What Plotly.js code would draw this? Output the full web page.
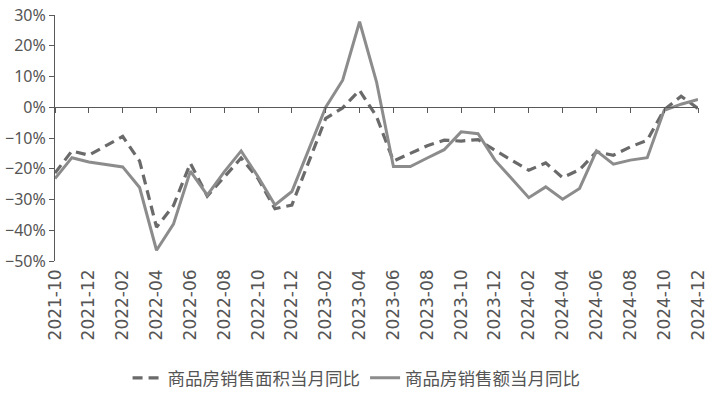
<!DOCTYPE html>
<html>
<head>
<meta charset="utf-8">
<script src="https://cdn.plot.ly/plotly-3.0.1.min.js"></script>
<style>html,body{margin:0;padding:0;background:#fff;}#chart{width:713px;height:398px;}</style>
</head>
<body>
<div id="chart"></div>
<script>
const months = ["2021-10","2021-11","2021-12","2022-01","2022-02","2022-03","2022-04","2022-05","2022-06","2022-07","2022-08","2022-09","2022-10","2022-11","2022-12","2023-01","2023-02","2023-03","2023-04","2023-05","2023-06","2023-07","2023-08","2023-09","2023-10","2023-11","2023-12","2024-01","2024-02","2024-03","2024-04","2024-05","2024-06","2024-07","2024-08","2024-09","2024-10","2024-11","2024-12"];
const areaYoY = [-21.4,-14.2,-15.6,null,-9.5,-17.5,-39.0,-32.0,-18.2,-28.9,-22.6,-16.5,-23.2,-33.0,-31.8,null,-3.6,-0.2,5.5,-3.0,-17.5,-15.0,-12.5,-10.7,-11.0,-10.5,-14.0,null,-20.5,-18.1,-22.9,-20.3,-14.5,-15.6,-12.9,-10.7,-0.8,3.6,-0.4];
const amountYoY = [-23.2,-16.4,-17.8,null,-19.4,-26.1,-46.5,-38.0,-20.8,-28.6,-21.0,-14.2,-22.6,-31.8,-27.4,null,0.0,8.8,27.8,8.3,-19.3,-19.3,-16.5,-13.8,-8.0,-8.6,-17.2,null,-29.4,-25.9,-29.9,-26.4,-14.2,-18.5,-17.2,-16.4,-1.0,1.0,2.5];
const tickLabels = ["2021-10","2021-12","2022-02","2022-04","2022-06","2022-08","2022-10","2022-12","2023-02","2023-04","2023-06","2023-08","2023-10","2023-12","2024-02","2024-04","2024-06","2024-08","2024-10","2024-12"];
const seriesNames = ["商品房销售面积当月同比","商品房销售额当月同比"];

const cjk = "'Noto Sans CJK SC', 'Noto Sans', sans-serif";
const num = "'DejaVu Sans', sans-serif";
const traces = [
  {x: months, y: areaYoY, name: seriesNames[0], type: 'scatter', mode: 'lines', connectgaps: true,
   line: {color: '#6a6a6a', width: 3.2, dash: '10px,6px'}},
  {x: months, y: amountYoY, name: seriesNames[1], type: 'scatter', mode: 'lines', connectgaps: true,
   line: {color: '#8c8c8c', width: 3}}
];
const layout = {
  width: 713, height: 398,
  margin: {l: 55, r: 15, t: 15, b: 137, autoexpand: false},
  paper_bgcolor: '#fff', plot_bgcolor: '#fff',
  font: {family: cjk, size: 16, color: '#555555'},
  showlegend: true,
  legend: {orientation: 'h', x: 0.469, xanchor: 'center', y: -0.4756, yanchor: 'middle',
           font: {family: cjk, size: 17.5, color: '#555555'}, tracegroupgap: 0},
  xaxis: {type: 'category', categoryorder: 'array', categoryarray: months, automargin: false,
          range: [0, months.length - 1], tickvals: tickLabels, ticktext: tickLabels,
          tickangle: -90, showgrid: false, showline: false, zeroline: false, ticks: '',
          ticklabelstandoff: 4, tickfont: {family: num, size: 17, color: '#555555'}},
  xaxis2: {overlaying: 'x', anchor: 'free', position: 50/80, type: 'linear', automargin: false,
           range: [0, months.length - 1], tickvals: tickLabels.map(t => months.indexOf(t)),
           showticklabels: false, ticks: 'outside', ticklen: 5, tickcolor: '#595959',
           showline: true, linecolor: '#595959', linewidth: 1, showgrid: false, zeroline: false},
  yaxis: {range: [-50, 30], dtick: 10, ticksuffix: '%', showgrid: false, zeroline: false, automargin: false,
          showline: true, linecolor: '#595959', linewidth: 1, ticks: 'outside', ticklen: 5,
          tickcolor: '#595959', tickfont: {family: "'Noto Sans', sans-serif", size: 16, color: '#555555'}}
};
traces.push({x: [0], y: [null], xaxis: 'x2', yaxis: 'y', showlegend: false, hoverinfo: 'skip', mode: 'lines'});
Plotly.newPlot('chart', traces, layout, {staticPlot: true});
</script>
</body>
</html>
